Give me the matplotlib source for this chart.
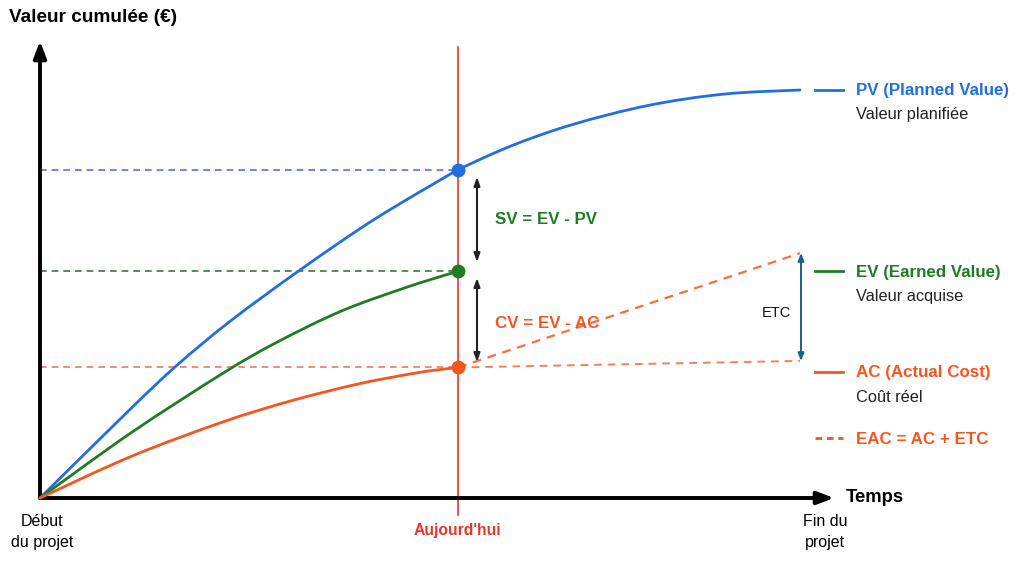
import matplotlib
matplotlib.use("Agg")
import matplotlib.pyplot as plt
import numpy as np
from matplotlib.path import Path
from matplotlib.patches import PathPatch

# valeurs (temps en % du projet, valeur en % du budget)
pv_t = [0, 12, 18, 25, 34, 44, 55, 62, 70, 80, 90, 100]
pv_v = [0, 22, 32.5, 43.3, 55.6, 68.3, 80.5, 86.3, 91.5, 96.2, 99.0, 100]
ev_t = [0, 12, 24, 31, 39.5, 48, 55]
ev_v = [0, 16, 30.5, 38, 45.7, 51.5, 55.6]
ac_t = [0, 12, 24, 33, 42, 50, 55]
ac_v = [0, 10.2, 18.6, 23.8, 28, 30.8, 32]
today = 55
t_end = 100
eac_end = 60
ac_flat_end = 33.6

BLUE = "#1f6fe3"
GREEN = "#1e7d23"
ORANGE = "#f4561d"
RED = "#e8362b"
TEAL = "#1f5f8b"

# conversion pixels -> données (origine du repère à (40, 498) px)
X0, SX, Y0, SY = 40, 7.6, 498, 4.08


def px(x, y):
    return (x - X0) / SX, (Y0 - y) / SY


def smooth_line(ax, t, v, **kw):
    """Trace une courbe lisse passant par les points (Bezier type Catmull-Rom)."""
    p = np.column_stack([t, v]).astype(float)
    ext = np.vstack([p[0], p, p[-1]])
    verts = [p[0]]
    codes = [Path.MOVETO]
    for i in range(len(p) - 1):
        p0, p1, p2, p3 = ext[i], ext[i + 1], ext[i + 2], ext[i + 3]
        verts += [p1 + (p2 - p0) / 6, p2 - (p3 - p1) / 6, p2]
        codes += [Path.CURVE4] * 3
    ax.add_patch(PathPatch(Path(verts, codes), fill=False, **kw))


fig = plt.figure(figsize=(10.24, 5.76), dpi=100)
ax = fig.add_axes([0, 0, 1, 1])
ax.set_xlim(-X0 / SX, (1024 - X0) / SX)
ax.set_ylim((Y0 - 576) / SY, Y0 / SY)
ax.axis("off")

SANS = ["Liberation Sans", "DejaVu Sans"]

# axes avec flèches
arrow_kw = dict(arrowstyle="-|>,head_length=1.0,head_width=0.38",
                lw=2.8, color="black", shrinkA=0, shrinkB=0)
ax.annotate("", xy=px(40, 41), xytext=(0, 0), arrowprops=arrow_kw)
ax.annotate("", xy=px(834, 498), xytext=(0, 0), arrowprops=arrow_kw)

# ligne "aujourd'hui"
ax.plot([today, today], [px(0, 515)[1], px(0, 47)[1]], color=RED, lw=1.2, zorder=2)

# pointillés horizontaux
i_today = pv_t.index(today)
pv_today = pv_v[i_today]
ev_today = ev_v[-1]
ac_today = ac_v[-1]
ax.plot([0, today], [pv_today, pv_today], ls=(0, (4, 3)), color="#5a6ee8", lw=1.2)
ax.plot([0, today], [ev_today, ev_today], ls=(0, (4, 3)), color="#2f7f35", lw=1.2)
ax.plot([0, today], [ac_today, ac_today], ls=(0, (4, 3)), color="#f07a5a", lw=1.2)

# courbes
curve_kw = dict(lw=2, capstyle="round", zorder=3)
smooth_line(ax, pv_t[:i_today + 1], pv_v[:i_today + 1], edgecolor=BLUE, **curve_kw)
smooth_line(ax, pv_t[i_today:], pv_v[i_today:], edgecolor=BLUE, **curve_kw)
smooth_line(ax, ev_t, ev_v, edgecolor=GREEN, **curve_kw)
smooth_line(ax, ac_t, ac_v, edgecolor=ORANGE, **curve_kw)

# projections EAC
ax.plot([today, t_end], [ac_today, eac_end], ls=(0, (4, 3)), color=ORANGE, lw=1.6, alpha=0.85)
ax.plot([today, t_end], [ac_today, ac_flat_end], ls=(0, (4, 3)), color=ORANGE, lw=1.4, alpha=0.75)

# points du jour
for val, c in [(pv_today, BLUE), (ev_today, GREEN), (ac_today, ORANGE)]:
    ax.plot(today, val, "o", ms=9, color=c, zorder=5)

# flèches SV et CV
dbl = dict(arrowstyle="<|-|>,head_length=0.5,head_width=0.18",
           lw=1.5, color="#222222", shrinkA=0, shrinkB=0)
sv_x = px(477, 0)[0]
ax.annotate("", xy=(sv_x, px(0, 177)[1]), xytext=(sv_x, px(0, 262)[1]), arrowprops=dbl)
ax.annotate("", xy=(sv_x, px(0, 278)[1]), xytext=(sv_x, px(0, 362)[1]), arrowprops=dbl)
ax.text(*px(495, 220), "SV = EV - PV", color=GREEN, fontsize=12.2, fontweight="bold",
        family=SANS, va="center", ha="left")
ax.text(*px(495, 323), "CV = EV - AC", color=ORANGE, fontsize=12.2, fontweight="bold",
        family=SANS, va="center", ha="left")

# flèche ETC
ax.annotate("", xy=px(801, 253), xytext=px(801, 361),
            arrowprops=dict(arrowstyle="<|-|>,head_length=0.45,head_width=0.18",
                            lw=1.4, color=TEAL, shrinkA=0, shrinkB=0))
ax.text(*px(776, 313), "ETC", fontsize=10.5, family=SANS, ha="center", va="center",
        color="#111111")

# légende
legend = [
    (90, "PV (Planned Value)", "Valeur planifiée", BLUE, "-"),
    (271, "EV (Earned Value)", "Valeur acquise", GREEN, "-"),
    (372, "AC (Actual Cost)", "Coût réel", ORANGE, "-"),
    (438, "EAC = AC + ETC", None, ORANGE, (0, (2.4, 1.7))),
]
for y, title, sub, c, ls in legend:
    x1, yy = px(815, y)
    x2, _ = px(843, y)
    ax.plot([x1, x2], [yy, yy], color=c, lw=2, ls=ls)
    ax.text(*px(856, y + 1), title, color=c, fontsize=12.2, fontweight="bold",
            family=SANS, va="center", ha="left")
    if sub:
        ax.text(*px(856, y + 25), sub, color="#222222", fontsize=11.8,
                family=SANS, va="center", ha="left")

# titres des axes
ax.text(*px(9, 18), "Valeur cumulée (€)", fontsize=13.7, fontweight="bold",
        family=SANS, va="center", ha="left")
ax.text(*px(846, 497), "Temps", fontsize=13.3, fontweight="bold",
        family=SANS, va="center", ha="left")

# repères temporels
ax.text(*px(42, 532), "Début\ndu projet", fontsize=11.5, family=SANS,
        ha="center", va="center", linespacing=1.45)
ax.text(*px(825, 532), "Fin du\nprojet", fontsize=11.5, family=SANS,
        ha="center", va="center", linespacing=1.45)
ax.text(*px(457, 531), "Aujourd'hui", fontsize=11.3, fontweight="bold",
        family=SANS, color=RED, ha="center", va="center")

fig.savefig("out.png", dpi=100)
plt.close(fig)
